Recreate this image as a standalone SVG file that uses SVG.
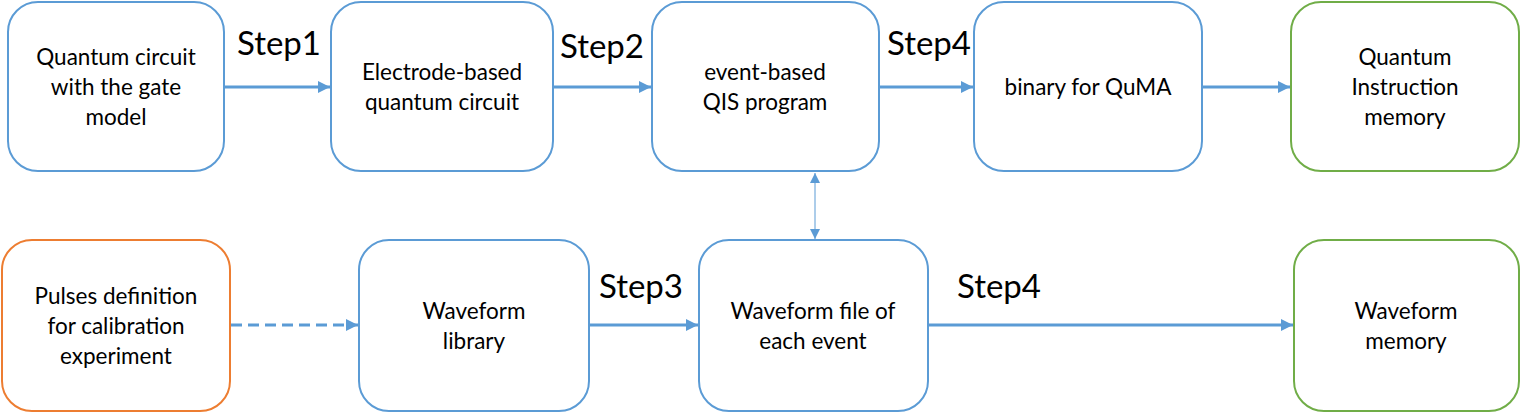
<svg xmlns="http://www.w3.org/2000/svg" width="1523" height="413" viewBox="0 0 1523 413">
<style>
.box{fill:#fff;stroke-width:2}
.b{stroke:#5B9BD5}.o{stroke:#ED7D31}.g{stroke:#70AD47}
.t{font-family:Lato,"Noto Sans",sans-serif;font-size:22.5px;fill:#000;text-anchor:middle}
.s{font-family:Lato,"Noto Sans",sans-serif;font-size:33px;fill:#000}
.c{stroke:#5B9BD5;stroke-width:3;fill:none}
</style>
<defs>
<marker id="ah" viewBox="0 0 10 10" refX="10" refY="5" markerWidth="4" markerHeight="4" orient="auto" markerUnits="strokeWidth"><path d="M0,0L10,5L0,10z" fill="#5B9BD5"/></marker>
<marker id="ah2" viewBox="0 0 10 10" refX="10" refY="5" markerWidth="10" markerHeight="10" orient="auto-start-reverse" markerUnits="strokeWidth"><path d="M0,0L10,5L0,10z" fill="#5B9BD5"/></marker>
</defs>
<g id="connectors">
<path class="c" d="M225,87H330" marker-end="url(#ah)"/>
<path class="c" d="M554,87H651" marker-end="url(#ah)"/>
<path class="c" d="M880,87H973" marker-end="url(#ah)"/>
<path class="c" d="M1203,87H1290" marker-end="url(#ah)"/>
<path class="c" d="M231,325H358" stroke-dasharray="11,6" marker-end="url(#ah)"/>
<path class="c" d="M590,325H698" marker-end="url(#ah)"/>
<path class="c" d="M929,325H1293" marker-end="url(#ah)"/>
<path d="M815,173V239" stroke="#5B9BD5" stroke-width="1" fill="none" marker-start="url(#ah2)" marker-end="url(#ah2)"/>
<text class="s" x="237" y="55">Step1</text>
<text class="s" x="560" y="58">Step2</text>
<text class="s" x="887" y="55">Step4</text>
<text class="s" x="599" y="298">Step3</text>
<text class="s" x="957" y="298">Step4</text>
</g>
<g id="n1"><rect class="box b" x="8" y="2" width="216" height="169" rx="30"/><text class="t" x="116" y="65">Quantum circuit</text><text class="t" x="116" y="95">with the gate</text><text class="t" x="116" y="125">model</text></g>
<g id="n2"><rect class="box b" x="331" y="2" width="222" height="169" rx="30"/><text class="t" x="442" y="80">Electrode-based</text><text class="t" x="442" y="110">quantum circuit</text></g>
<g id="n3"><rect class="box b" x="652" y="2" width="227" height="169" rx="30"/><text class="t" x="765" y="80">event-based</text><text class="t" x="765" y="110">QIS program</text></g>
<g id="n4"><rect class="box b" x="974" y="2" width="228" height="169" rx="30"/><text class="t" x="1088" y="95">binary for QuMA</text></g>
<g id="n5"><rect class="box g" x="1291" y="2" width="228" height="169" rx="30"/><text class="t" x="1405" y="65">Quantum</text><text class="t" x="1405" y="95">Instruction</text><text class="t" x="1405" y="125">memory</text></g>
<g id="n6"><rect class="box o" x="2" y="240" width="228" height="171" rx="30"/><text class="t" x="116" y="304">Pulses definition</text><text class="t" x="116" y="334">for calibration</text><text class="t" x="116" y="364">experiment</text></g>
<g id="n7"><rect class="box b" x="359" y="240" width="230" height="171" rx="30"/><text class="t" x="474" y="319">Waveform</text><text class="t" x="474" y="349">library</text></g>
<g id="n8"><rect class="box b" x="699" y="240" width="229" height="171" rx="30"/><text class="t" x="813" y="319">Waveform file of</text><text class="t" x="813" y="349">each event</text></g>
<g id="n9"><rect class="box g" x="1294" y="240" width="225" height="171" rx="30"/><text class="t" x="1406" y="319">Waveform</text><text class="t" x="1406" y="349">memory</text></g>
</svg>
